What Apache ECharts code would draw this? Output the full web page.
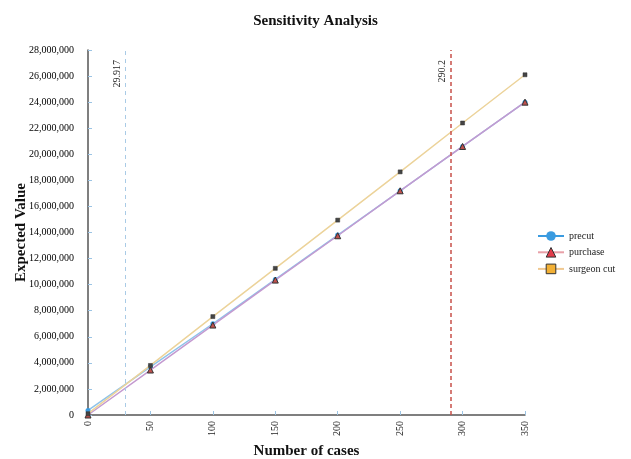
<!DOCTYPE html>
<html>
<head>
<meta charset="utf-8">
<script src="https://cdn.jsdelivr.net/npm/echarts@6/dist/echarts.min.js"></script>
<style>html,body{margin:0;padding:0;background:#fff}#c{width:631px;height:459px}</style>
</head>
<body>
<div id="c"></div>
<script>
const cases = [0, 50, 100, 150, 200, 250, 300, 350];
const precut = [350000, 3700000, 7000000, 10400000, 13800000, 17200000, 20600000, 24000000];
const purchase = [0, 3450000, 6900000, 10350000, 13750000, 17200000, 20600000, 24000000];
const surgeonCut = [100000, 3800000, 7550000, 11250000, 14950000, 18650000, 22400000, 26100000];
const thresholds = [29.917, 290.2];
const thresholdLabels = ['29.917', '290.2'];
const seriesNames = ['precut', 'purchase', 'surgeon cut'];

const serif = 'Liberation Serif, DejaVu Serif, serif';
const pair = (ys) => cases.map((x, i) => [x, ys[i]]);

const chart = echarts.init(document.getElementById('c'));
chart.setOption({
  animation: false,
  backgroundColor: '#fff',
  title: {
    text: 'Sensitivity Analysis', left: 'center', top: 9,
    textStyle: {fontFamily: serif, fontWeight: 'bold', fontSize: 15, color: '#111'}
  },
  grid: {left: 88, right: 106, top: 50, bottom: 44, containLabel: false, outerBoundsMode: 'none'},
  legend: {
    orient: 'vertical', left: 532, top: 226, itemGap: 6, itemWidth: 26, itemHeight: 12,
    textStyle: {fontFamily: serif, fontSize: 10, color: '#222'},
    data: [
      {name: 'precut', itemStyle: {color: '#3a9be0', borderWidth: 0}, lineStyle: {color: '#3a9be0', width: 2}},
      {name: 'purchase', itemStyle: {color: '#e23c4a', borderColor: '#333', borderWidth: 1}, lineStyle: {color: '#e8a0a8', width: 2}},
      {name: 'surgeon cut', itemStyle: {color: '#f2b035', borderColor: '#333', borderWidth: 1}, lineStyle: {color: '#f0c890', width: 2}}
    ]
  },
  xAxis: {
    type: 'value', min: 0, max: 350, interval: 50,
    name: 'Number of cases', nameLocation: 'middle', nameGap: 25,
    nameTextStyle: {fontFamily: serif, fontWeight: 'bold', fontSize: 15, color: '#111'},
    axisLine: {show: true, lineStyle: {color: '#555', width: 1.5}},
    axisTick: {show: true, inside: true, length: 4, lineStyle: {color: '#9cc4e4'}},
    axisLabel: {rotate: 90, fontFamily: serif, fontSize: 10, color: '#222', margin: 6},
    splitLine: {show: false}
  },
  yAxis: {
    type: 'value', min: 0, max: 28000000, interval: 2000000,
    name: 'Expected Value', nameLocation: 'middle', nameGap: 59, nameRotate: 90, nameMoveOverlap: false,
    nameTextStyle: {fontFamily: serif, fontWeight: 'bold', fontSize: 15, color: '#111'},
    axisLine: {show: true, lineStyle: {color: '#555', width: 1.5}},
    axisTick: {show: true, inside: true, length: 4, lineStyle: {color: '#9cc4e4'}},
    axisLabel: {fontFamily: serif, fontSize: 10, color: '#000', margin: 14,
      formatter: v => v.toLocaleString('en-US')},
    splitLine: {show: false}
  },
  series: [
    {
      name: seriesNames[0], type: 'line', data: pair(precut), symbol: 'circle', symbolSize: 5,
      lineStyle: {color: '#8ec3ea', width: 1.5}, itemStyle: {color: '#3a9be0'},
      z: 2,
      markLine: {
        silent: true, symbol: ['none', 'none'],
        data: [
          {xAxis: thresholds[0], lineStyle: {color: '#a9cbe6', type: [4, 4], width: 1},
           label: {formatter: thresholdLabels[0]}},
          {xAxis: thresholds[1], lineStyle: {color: '#c8504a', type: [4, 3], width: 1.5},
           label: {formatter: thresholdLabels[1]}}
        ],
        label: {position: 'insideEndTop', fontFamily: serif, fontSize: 10, color: '#222', distance: [10, 3]}
      }
    },
    {
      name: seriesNames[1], type: 'line', data: pair(purchase), symbol: 'triangle', symbolSize: 6,
      lineStyle: {color: '#c49ad0', width: 1.5}, itemStyle: {color: '#c0504d', borderColor: '#333', borderWidth: 1},
      z: 3
    },
    {
      name: seriesNames[2], type: 'line', data: pair(surgeonCut), symbol: 'rect', symbolSize: 4,
      lineStyle: {color: '#ecd39a', width: 1.5}, itemStyle: {color: '#444', borderColor: '#333', borderWidth: 0.5},
      z: 3
    }
  ]
});
</script>
</body>
</html>
